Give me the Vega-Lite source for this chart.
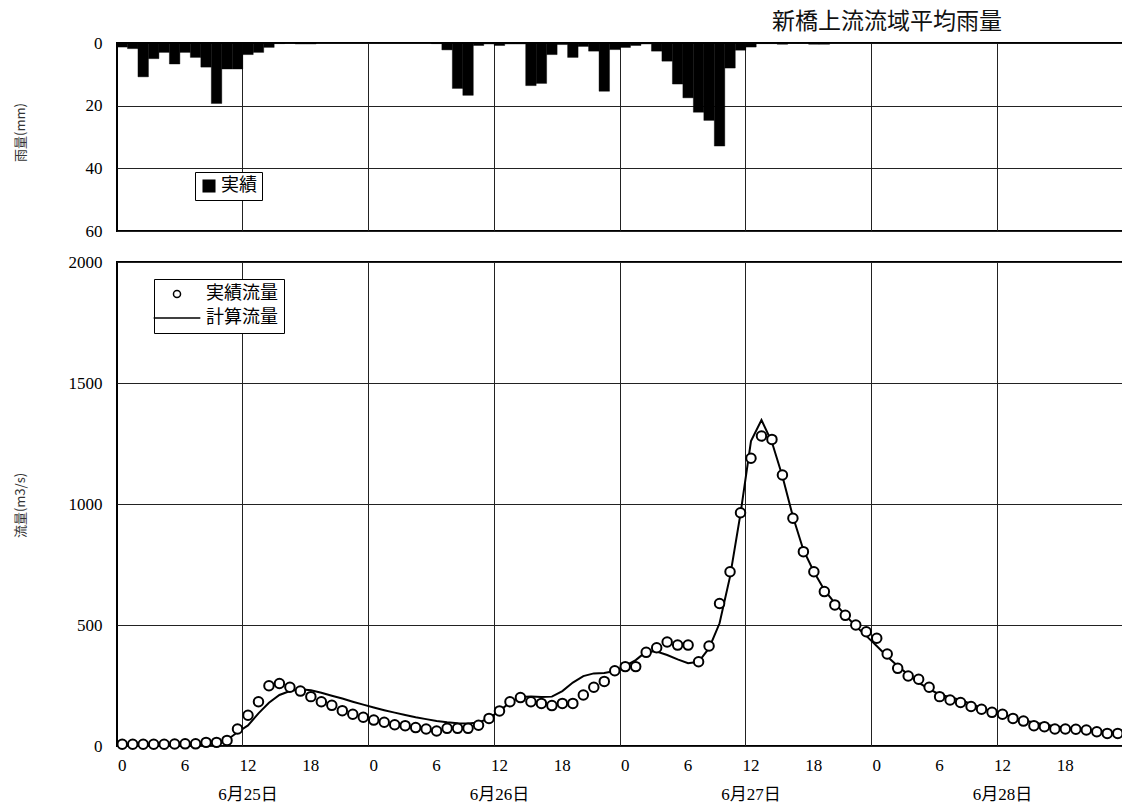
{
  "$schema": "https://vega.github.io/schema/vega-lite/v6.json",
  "background": "white",
  "padding": {"left": 12, "top": 10, "right": 0, "bottom": 4},
  "bounds": "flush",
  "spacing": 31,
  "config": {
    "view": {"stroke": "black", "strokeWidth": 2},
    "axis": {
      "labelFont": "Liberation Serif, Noto Sans CJK JP",
      "labelFontSize": 17,
      "labelColor": "black",
      "titleFont": "Noto Sans CJK JP",
      "titleFontWeight": "normal",
      "titleColor": "#333",
      "titleFontSize": 13,
      "gridColor": "#222",
      "gridOpacity": 1,
      "gridWidth": 1,
      "domain": false,
      "ticks": false,
      "labelOverlap": false
    }
  },
  "datasets": {
    "rain": [
      {"h":0,"実績":1.3},{"h":1,"実績":1.8},{"h":2,"実績":10.8},{"h":3,"実績":5.0},{"h":4,"実績":3.0},{"h":5,"実績":6.7},
      {"h":6,"実績":3.0},{"h":7,"実績":4.6},{"h":8,"実績":7.7},{"h":9,"実績":19.3},{"h":10,"実績":8.3},{"h":11,"実績":8.3},
      {"h":12,"実績":3.7},{"h":13,"実績":3.0},{"h":14,"実績":1.4},{"h":15,"実績":0.2},{"h":16,"実績":0.1},{"h":17,"実績":0.3},
      {"h":18,"実績":0.3},{"h":19,"実績":0},{"h":20,"実績":0},{"h":21,"実績":0},{"h":22,"実績":0},{"h":23,"実績":0},
      {"h":24,"実績":0},{"h":25,"実績":0},{"h":26,"実績":0},{"h":27,"実績":0},{"h":28,"実績":0},{"h":29,"実績":0},
      {"h":30,"実績":0.2},{"h":31,"実績":2.2},{"h":32,"実績":14.5},{"h":33,"実績":16.7},{"h":34,"実績":0.8},{"h":35,"実績":0.3},
      {"h":36,"実績":0.8},{"h":37,"実績":0.3},{"h":38,"実績":0.3},{"h":39,"実績":13.6},{"h":40,"実績":12.9},{"h":41,"実績":3.7},
      {"h":42,"実績":0.5},{"h":43,"実績":4.6},{"h":44,"実績":1.1},{"h":45,"実績":2.6},{"h":46,"実績":15.4},{"h":47,"実績":2.1},
      {"h":48,"実績":1.4},{"h":49,"実績":0.8},{"h":50,"実績":0.3},{"h":51,"実績":2.6},{"h":52,"実績":5.8},{"h":53,"実績":13.1},
      {"h":54,"実績":17.5},{"h":55,"実績":22.1},{"h":56,"実績":24.7},{"h":57,"実績":32.9},{"h":58,"実績":8.0},{"h":59,"実績":2.3},
      {"h":60,"実績":1.3},{"h":61,"実績":0.2},{"h":62,"実績":0.2},{"h":63,"実績":0.4},{"h":64,"実績":0.1},{"h":65,"実績":0.1},
      {"h":66,"実績":0.4},{"h":67,"実績":0.4},{"h":68,"実績":0},{"h":69,"実績":0},{"h":70,"実績":0},{"h":71,"実績":0},
      {"h":72,"実績":0},{"h":73,"実績":0},{"h":74,"実績":0},{"h":75,"実績":0},{"h":76,"実績":0},{"h":77,"実績":0},
      {"h":78,"実績":0},{"h":79,"実績":0},{"h":80,"実績":0},{"h":81,"実績":0},{"h":82,"実績":0},{"h":83,"実績":0},
      {"h":84,"実績":0},{"h":85,"実績":0},{"h":86,"実績":0},{"h":87,"実績":0},{"h":88,"実績":0},{"h":89,"実績":0},
      {"h":90,"実績":0},{"h":91,"実績":0},{"h":92,"実績":0},{"h":93,"実績":0},{"h":94,"実績":0},{"h":95,"実績":0}
    ],
    "flow": [
      {"h":0,"実績流量":7,"計算流量":3},{"h":1,"実績流量":7,"計算流量":3},{"h":2,"実績流量":7,"計算流量":3},
      {"h":3,"実績流量":7,"計算流量":3},{"h":4,"実績流量":7,"計算流量":3},{"h":5,"実績流量":8,"計算流量":3},
      {"h":6,"実績流量":9,"計算流量":3},{"h":7,"実績流量":9,"計算流量":4},{"h":8,"実績流量":15,"計算流量":6},
      {"h":9,"実績流量":15,"計算流量":12},{"h":10,"実績流量":23,"計算流量":25},{"h":11,"実績流量":70,"計算流量":57},
      {"h":12,"実績流量":127,"計算流量":85},{"h":13,"実績流量":183,"計算流量":135},{"h":14,"実績流量":249,"計算流量":179},
      {"h":15,"実績流量":258,"計算流量":211},{"h":16,"実績流量":243,"計算流量":227},{"h":17,"実績流量":227,"計算流量":234},
      {"h":18,"実績流量":204,"計算流量":230},{"h":19,"実績流量":183,"計算流量":220},{"h":20,"実績流量":168,"計算流量":208},
      {"h":21,"実績流量":146,"計算流量":196},{"h":22,"実績流量":131,"計算流量":183},{"h":23,"実績流量":119,"計算流量":171},
      {"h":24,"実績流量":107,"計算流量":159},{"h":25,"実績流量":98,"計算流量":148},{"h":26,"実績流量":88,"計算流量":138},
      {"h":27,"実績流量":84,"計算流量":128},{"h":28,"実績流量":76,"計算流量":119},{"h":29,"実績流量":70,"計算流量":111},
      {"h":30,"実績流量":62,"計算流量":103},{"h":31,"実績流量":73,"計算流量":98},{"h":32,"実績流量":73,"計算流量":94},
      {"h":33,"実績流量":73,"計算流量":93},{"h":34,"実績流量":86,"計算流量":97},{"h":35,"実績流量":114,"計算流量":114},
      {"h":36,"実績流量":145,"計算流量":145},{"h":37,"実績流量":183,"計算流量":180},{"h":38,"実績流量":200,"計算流量":203},
      {"h":39,"実績流量":183,"計算流量":205},{"h":40,"実績流量":176,"計算流量":202},{"h":41,"実績流量":167,"計算流量":204},
      {"h":42,"実績流量":176,"計算流量":227},{"h":43,"実績流量":176,"計算流量":262},{"h":44,"実績流量":211,"計算流量":289},
      {"h":45,"実績流量":243,"計算流量":300},{"h":46,"実績流量":267,"計算流量":302},{"h":47,"実績流量":311,"計算流量":310},
      {"h":48,"実績流量":328,"計算流量":331},{"h":49,"実績流量":328,"計算流量":355},{"h":50,"実績流量":387,"計算流量":390},
      {"h":51,"実績流量":406,"計算流量":390},{"h":52,"実績流量":430,"計算流量":376},{"h":53,"実績流量":417,"計算流量":358},
      {"h":54,"実績流量":417,"計算流量":342},{"h":55,"実績流量":348,"計算流量":348},{"h":56,"実績流量":413,"計算流量":404},
      {"h":57,"実績流量":589,"計算流量":507},{"h":58,"実績流量":720,"計算流量":700},{"h":59,"実績流量":964,"計算流量":960},
      {"h":60,"実績流量":1189,"計算流量":1260},{"h":61,"実績流量":1281,"計算流量":1347},{"h":62,"実績流量":1267,"計算流量":1255},
      {"h":63,"実績流量":1120,"計算流量":1115},{"h":64,"実績流量":941,"計算流量":948},{"h":65,"実績流量":803,"計算流量":810},
      {"h":66,"実績流量":720,"計算流量":720},{"h":67,"実績流量":638,"計算流量":645},{"h":68,"実績流量":583,"計算流量":590},
      {"h":69,"実績流量":540,"計算流量":541},{"h":70,"実績流量":500,"計算流量":495},{"h":71,"実績流量":472,"計算流量":455},
      {"h":72,"実績流量":445,"計算流量":413},{"h":73,"実績流量":380,"計算流量":370},{"h":74,"実績流量":321,"計算流量":331},
      {"h":75,"実績流量":289,"計算流量":295},{"h":76,"実績流量":276,"計算流量":262},{"h":77,"実績流量":243,"計算流量":235},
      {"h":78,"実績流量":204,"計算流量":213},{"h":79,"実績流量":190,"計算流量":202},{"h":80,"実績流量":180,"計算流量":190},
      {"h":81,"実績流量":163,"計算流量":174},{"h":82,"実績流量":152,"計算流量":157},{"h":83,"実績流量":139,"計算流量":143},
      {"h":84,"実績流量":131,"計算流量":130},{"h":85,"実績流量":114,"計算流量":118},{"h":86,"実績流量":103,"計算流量":107},
      {"h":87,"実績流量":84,"計算流量":97},{"h":88,"実績流量":80,"計算流量":89},{"h":89,"実績流量":70,"計算流量":82},
      {"h":90,"実績流量":70,"計算流量":76},{"h":91,"実績流量":69,"計算流量":71},{"h":92,"実績流量":66,"計算流量":66},
      {"h":93,"実績流量":59,"計算流量":62},{"h":94,"実績流量":52,"計算流量":58},{"h":95,"実績流量":52,"計算流量":55}
    ]
  },
  "vconcat": [
    {
      "width": 1006,
      "height": 188,
      "data": {"name": "rain"},
      "title": {
        "text": "新橋上流流域平均雨量",
        "anchor": "start",
        "frame": "group",
        "dx": 655,
        "offset": 0,
        "font": "Noto Sans CJK JP",
        "fontSize": 23,
        "fontWeight": "normal",
        "color": "#111"
      },
      "transform": [{"fold": ["実績"], "as": ["key", "value"]}],
      "mark": {"type": "bar", "color": "black", "stroke": "black", "strokeWidth": 0.4},
      "encoding": {
        "x": {
          "field": "h",
          "type": "ordinal",
          "scale": {"type": "band", "paddingInner": 0, "paddingOuter": 0},
          "axis": {
            "orient": "bottom",
            "values": [12, 24, 36, 48, 60, 72, 84],
            "bandPosition": 0,
            "grid": true,
            "labels": false,
            "title": null
          }
        },
        "y": {
          "field": "value",
          "type": "quantitative",
          "scale": {"domain": [0, 60], "reverse": true, "nice": false},
          "axis": {
            "values": [0, 20, 40, 60],
            "grid": true,
            "format": "d",
            "labelPadding": 15,
            "title": "雨量(mm)",
            "titleX": -97,
            "titleY": 89,
            "titleAlign": "center",
            "titleBaseline": "middle"
          }
        },
        "color": {
          "field": "key",
          "type": "nominal",
          "scale": {"range": ["black"]},
          "legend": {
            "title": null,
            "orient": "none",
            "legendX": 78,
            "legendY": 129,
            "strokeColor": "black",
            "fillColor": "white",
            "padding": 5,
            "symbolType": "square",
            "symbolSize": 170,
            "symbolStrokeWidth": 0,
            "labelFont": "Noto Sans CJK JP",
            "labelFontSize": 18,
            "labelColor": "black",
            "labelOffset": 3
          }
        }
      }
    },
    {
      "width": 1006,
      "height": 484,
      "data": {"name": "flow"},
      "transform": [{"fold": ["実績流量", "計算流量"], "as": ["key", "value"]}],
      "encoding": {
        "y": {
          "field": "value",
          "type": "quantitative",
          "scale": {"domain": [0, 2000], "nice": false},
          "axis": {
            "values": [0, 500, 1000, 1500, 2000],
            "grid": true,
            "format": "d",
            "labelPadding": 15,
            "title": "流量(m3/s)",
            "titleX": -97,
            "titleY": 243,
            "titleAlign": "center",
            "titleBaseline": "middle"
          }
        }
      },
      "layer": [
        {
          "transform": [{"filter": "datum.key === '計算流量'"}],
          "mark": {"type": "line", "color": "black", "strokeWidth": 2},
          "encoding": {
            "x": {
              "field": "h",
              "type": "ordinal",
              "scale": {"type": "band", "paddingInner": 0, "paddingOuter": 0},
              "axis": {
                "orient": "bottom",
                "values": [0, 6, 12, 18, 24, 30, 36, 42, 48, 54, 60, 66, 72, 78, 84, 90],
                "bandPosition": 0.5,
                "grid": false,
                "labelAngle": 0,
                "labelPadding": 11,
                "labelExpr": "'' + (datum.value % 24)",
                "title": null
              }
            }
          }
        },
        {
          "transform": [{"filter": "datum.key === '実績流量'"}],
          "mark": {"type": "point", "filled": true, "fill": "white", "stroke": "black", "strokeWidth": 2, "size": 90, "opacity": 1},
          "encoding": {
            "x": {
              "field": "h",
              "type": "ordinal",
              "scale": {"type": "band", "paddingInner": 0, "paddingOuter": 0},
              "axis": {
                "orient": "bottom",
                "values": [12, 24, 36, 48, 60, 72, 84],
                "bandPosition": 0,
                "grid": true,
                "labelAngle": 0,
                "labelPadding": 40,
                "labelExpr": "datum.value == 12 ? '6月25日' : datum.value == 36 ? '6月26日' : datum.value == 60 ? '6月27日' : datum.value == 84 ? '6月28日' : ''",
                "title": null
              }
            },
            "shape": {
              "field": "key",
              "type": "nominal",
              "scale": {"domain": ["実績流量", "計算流量"], "range": ["circle", "M-6.6,0H6.6"]},
              "legend": {
                "title": null,
                "orient": "none",
                "legendX": 37,
                "legendY": 236,
                "strokeColor": "black",
                "fillColor": "white",
                "padding": 6,
                "symbolOffset": 8,
                "symbolSize": 50,
                "labelOffset": 20,
                "labelFont": "Noto Sans CJK JP",
                "labelFontSize": 18,
                "labelColor": "black",
                "rowPadding": 6,
                "encode": {
                  "symbols": {
                    "update": {
                      "stroke": {"value": "black"},
                      "strokeWidth": {"value": 2},
                      "fill": {"value": "white"},
                      "opacity": {"value": 1}
                    }
                  }
                }
              }
            }
          }
        }
      ],
      "resolve": {"axis": {"x": "independent"}}
    }
  ]
}
